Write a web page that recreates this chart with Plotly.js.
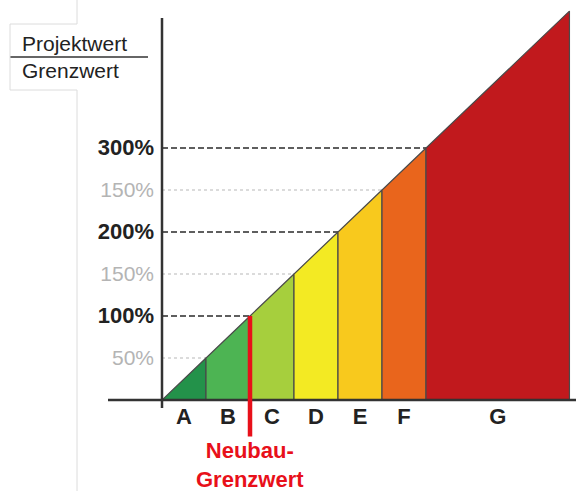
<!DOCTYPE html>
<html>
<head>
<meta charset="utf-8">
<script src="https://cdn.plot.ly/plotly-3.0.1.min.js"></script>
<style>html,body{margin:0;padding:0;background:#fff;}</style>
</head>
<body>
<div id="chart" style="width:579px;height:491px;"></div>
<script>
// ---- data ----
var classes = ['A', 'B', 'C', 'D', 'E', 'F', 'G'];
var classBounds = [0, 50, 100, 150, 200, 250, 300, 463];   // Projektwert/Grenzwert in %
var yTickVals = [50, 100, 150, 200, 250, 300];
var yTickLabels = ['50%', '100%', '150%', '200%', '150%', '300%'];
var yTickMajor = [false, true, false, true, false, true];
var neubauGrenzwert = 100;

// ---- styles ----
var classColors = ['#23924a', '#4db453', '#a6cf3d', '#f3ea23', '#f8c91d', '#e9651c', '#c1191d'];

var W = 579, H = 491, L = 162, R = 4, T = 0, B = 91;
var pw = W - L - R, ph = H - T - B;
function px(x) { return (x - L) / pw; }
function py(y) { return (H - B - y) / ph; }

var traces = [];
// guide lines
yTickVals.forEach(function (v, i) {
  traces.push({
    type: 'scatter', mode: 'lines', x: [0, v], y: [v, v], hoverinfo: 'skip', showlegend: false,
    line: yTickMajor[i] ? {color: '#5e5e5e', width: 2.2, dash: '6px,3px'} : {color: '#cfcfcf', width: 1.5, dash: 'dot'}
  });
});
// class segments
for (var i = 0; i < classes.length; i++) {
  var b0 = classBounds[i], b1 = classBounds[i + 1];
  traces.push({
    type: 'scatter', mode: 'lines', fill: 'toself', name: classes[i],
    x: [b0, b0, b1, b1, b0], y: [0, b0, b1, 0, 0],
    fillcolor: classColors[i], line: {color: '#4a4a4a', width: 1.2},
    hoverinfo: 'skip', showlegend: false
  });
}

var centers = classes.map(function (c, i) { return (classBounds[i] + classBounds[i + 1]) / 2; });

var ticktext = yTickLabels.map(function (t, i) {
  return yTickMajor[i] ? '<b><span style="color:#222;font-size:22px">' + t + '</span></b>'
                       : '<span style="color:#b4b4b4">' + t + '</span>';
});

var gray = '#dcdcdc';
var shapes = [
  // x axis
  {type: 'line', xref: 'paper', yref: 'paper', x0: px(108), x1: px(576), y0: 0, y1: 0, line: {color: '#333', width: 2.5}, layer: 'above'},
  // y axis
  {type: 'line', xref: 'paper', yref: 'paper', x0: 0, x1: 0, y0: py(408), y1: py(18), line: {color: '#333', width: 2.5}, layer: 'above'},
  // fraction bar
  {type: 'line', xref: 'paper', yref: 'paper', x0: px(10), x1: px(148), y0: py(57), y1: py(57), line: {color: '#333', width: 1.5}},
  // faint frame lines
  {type: 'line', xref: 'paper', yref: 'paper', x0: px(10), x1: px(77), y0: py(24), y1: py(24), line: {color: gray, width: 1}},
  {type: 'line', xref: 'paper', yref: 'paper', x0: px(10), x1: px(77), y0: py(90), y1: py(90), line: {color: gray, width: 1}},
  {type: 'line', xref: 'paper', yref: 'paper', x0: px(10), x1: px(10), y0: py(24), y1: py(90), line: {color: gray, width: 1}},
  {type: 'line', xref: 'paper', yref: 'paper', x0: px(77), x1: px(77), y0: py(0), y1: py(24), line: {color: gray, width: 1}},
  {type: 'line', xref: 'paper', yref: 'paper', x0: px(77), x1: px(77), y0: py(90), y1: py(491), line: {color: gray, width: 1}}
];

var annotations = [
  {xref: 'paper', yref: 'paper', x: px(20), y: py(44), xanchor: 'left', yanchor: 'middle', showarrow: false,
   text: 'Projektwert', font: {family: 'Liberation Sans, Arial, sans-serif', size: 21, color: '#222'}},
  {xref: 'paper', yref: 'paper', x: px(20), y: py(70), xanchor: 'left', yanchor: 'middle', showarrow: false,
   text: 'Grenzwert', font: {family: 'Liberation Sans, Arial, sans-serif', size: 21, color: '#222'}},
  {xref: 'x', yref: 'y', x: neubauGrenzwert, y: neubauGrenzwert, ax: 0, ay: 149, showarrow: true,
   arrowhead: 0, arrowwidth: 4.5, arrowcolor: '#e8101a', standoff: 0,
   text: '<b>Neubau-<br>Grenzwert</b>', font: {family: 'Liberation Sans, Arial, sans-serif', size: 22, color: '#e8101a'}}
];

var layout = {
  width: W, height: H,
  margin: {l: L, r: R, t: T, b: B, pad: 0},
  paper_bgcolor: '#fff', plot_bgcolor: 'rgba(0,0,0,0)',
  showlegend: false,
  font: {family: 'Liberation Sans, Arial, sans-serif', color: '#222'},
  xaxis: {
    range: [0, pw / 0.88], showgrid: false, zeroline: false, showline: false, ticks: '',
    tickvals: centers, ticktext: classes.map(function (c) { return '<b>' + c + '</b>'; }),
    tickfont: {size: 22, color: '#222'}, ticklabelstandoff: 1, fixedrange: true
  },
  yaxis: {
    range: [0, ph / 0.84], showgrid: false, zeroline: false, showline: false, ticks: '',
    tickvals: yTickVals, ticktext: ticktext, tickfont: {size: 21, color: '#222'},
    ticklabelstandoff: 7, fixedrange: true
  },
  shapes: shapes,
  annotations: annotations
};

Plotly.newPlot('chart', traces, layout, {displayModeBar: false, staticPlot: true});
</script>
</body>
</html>
